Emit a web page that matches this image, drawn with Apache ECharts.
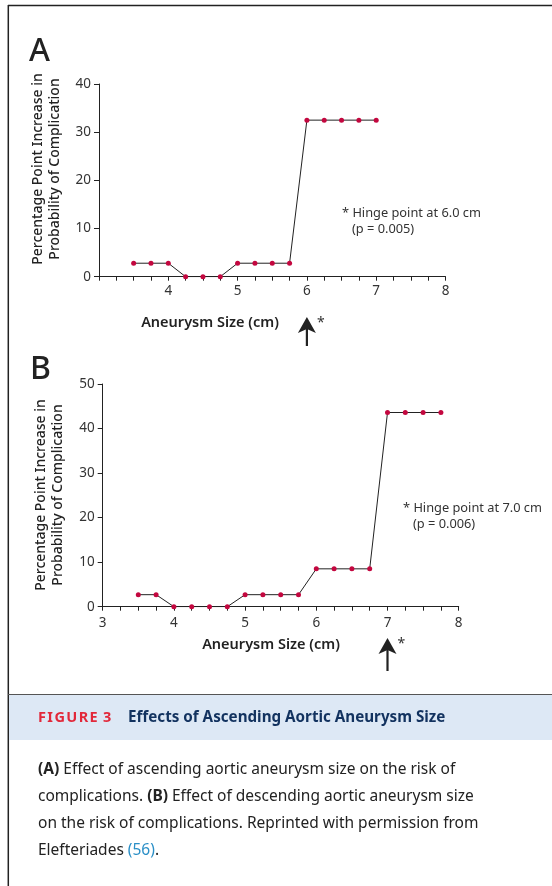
<!DOCTYPE html>
<html>
<head>
<meta charset="utf-8">
<script src="https://cdn.jsdelivr.net/npm/echarts@6/dist/echarts.min.js"></script>
<style>
  html, body { margin: 0; padding: 0; background: #fff; }
  #chart { width: 552px; height: 886px; }
</style>
</head>
<body>
<div id="chart"></div>
<script>
// aneurysm size (cm) and percentage point increase
const sizesA = [3.5, 3.75, 4.0, 4.25, 4.5, 4.75, 5.0, 5.25, 5.5, 5.75, 6.0, 6.25, 6.5, 6.75, 7.0];
const valuesA = [2.8, 2.8, 2.8, 0, 0, 0, 2.8, 2.8, 2.8, 2.8, 32.5, 32.5, 32.5, 32.5, 32.5];
const sizesB = [3.5, 3.75, 4.0, 4.25, 4.5, 4.75, 5.0, 5.25, 5.5, 5.75, 6.0, 6.25, 6.5, 6.75, 7.0, 7.25, 7.5, 7.75];
const valuesB = [2.7, 2.7, 0, 0, 0, 0, 2.7, 2.7, 2.7, 2.7, 8.5, 8.5, 8.5, 8.5, 43.6, 43.6, 43.6, 43.6];
const yTicksA = [0, 10, 20, 30, 40];
const yTicksB = [0, 10, 20, 30, 40, 50];
const xLabelsA = [4, 5, 6, 7, 8];
const xLabelsB = [3, 4, 5, 6, 7, 8];
const hingeA = 6.0;
const hingeB = 7.0;

const FONT = 'Noto Sans';
const INK = '#222';
const DOT = '#c3073f';

const chart = echarts.init(document.getElementById('chart'));

function xAxis(gridIndex, labels) {
  return {
    type: 'value', gridIndex, min: 3, max: 8, interval: 0.25,
    axisLine: { lineStyle: { color: INK, width: 1 } },
    axisTick: { length: 4, lineStyle: { color: INK } },
    splitLine: { show: false },
    axisLabel: {
      margin: gridIndex === 0 ? 7 : 9,
      fontFamily: FONT, fontSize: 13.5, color: '#333',
      formatter: v => labels.includes(v) ? String(v) : ''
    }
  };
}

function yAxis(gridIndex, ticks) {
  return {
    type: 'value', gridIndex, min: ticks[0], max: ticks[ticks.length - 1], interval: 10,
    axisLine: { show: true, lineStyle: { color: INK, width: 1 } },
    axisTick: { show: true, length: 5, lineStyle: { color: INK } },
    splitLine: { show: false },
    axisLabel: { margin: 8, fontFamily: FONT, fontSize: 13.5, color: '#333' }
  };
}

function lineSeries(idx, xs, ys) {
  return {
    type: 'line', xAxisIndex: idx, yAxisIndex: idx,
    data: xs.map((x, i) => [x, ys[i]]),
    symbol: 'circle', symbolSize: 5,
    itemStyle: { color: DOT },
    lineStyle: { color: INK, width: 1 },
    emphasis: { disabled: true },
    silent: true
  };
}

chart.setOption({
  animation: false,
  textStyle: { fontFamily: FONT },
  grid: [
    { left: 99, top: 84, width: 346.5, height: 192.7 },
    { left: 102.7, top: 384, width: 356, height: 222.7 }
  ],
  xAxis: [xAxis(0, xLabelsA), xAxis(1, xLabelsB)],
  yAxis: [yAxis(0, yTicksA), yAxis(1, yTicksB)],
  series: [lineSeries(0, sizesA, valuesA), lineSeries(1, sizesB, valuesB)]
});

// arrows under the hinge points
function arrow(gridIdx, hinge, top, bottom) {
  const x = chart.convertToPixel({ xAxisIndex: gridIdx }, hinge);
  return [
    { type: 'line', shape: { x1: x, y1: top + 10, x2: x, y2: bottom }, style: { stroke: INK, lineWidth: 2.2 } },
    { type: 'polygon', shape: { points: [[x, top], [x - 9, top + 16], [x, top + 12], [x + 9, top + 16]] }, style: { fill: INK } },
    { type: 'text', x: x + 10, y: top + 6, style: { text: '*', fontFamily: FONT, fontSize: 14, fill: '#333', textVerticalAlign: 'middle' } }
  ];
}

const yTitle = '{a|Percentage Point Increase in}\n{a|Probability of Complication}';
const yTitleRich = { a: { fontFamily: FONT, fontSize: 14, fontWeight: 500, fill: INK, lineHeight: 17 } };

const caption =
  '{b|(A)} Effect of ascending aortic aneurysm size on the risk of\n' +
  'complications. {b|(B)} Effect of descending aortic aneurysm size\n' +
  'on the risk of complications. Reprinted with permission from\n' +
  'Elefteriades {l|(56)}.';

// spaced capitals for the figure tag
const figTag = 'FIGURE 3'.split('').map(ch => ch === ' ' ? '{s| }' : '{r|' + ch + '}').join('');

chart.setOption({
  graphic: [
    // frame
    { type: 'line', shape: { x1: 8, y1: 5.5, x2: 552, y2: 5.5 }, style: { stroke: INK, lineWidth: 1.5 } },
    { type: 'line', shape: { x1: 8.3, y1: 5, x2: 8.3, y2: 886 }, style: { stroke: INK, lineWidth: 1.5 } },
    { type: 'rect', shape: { x: 9, y: 695, width: 543, height: 45 }, style: { fill: '#dde8f5' } },
    { type: 'line', shape: { x1: 8, y1: 694.5, x2: 552, y2: 694.5 }, style: { stroke: '#555', lineWidth: 1 } },

    // panel letters
    { type: 'text', x: 29, y: 68, style: { text: 'A', fontFamily: FONT, fontSize: 32, fontWeight: 500, fill: INK, textVerticalAlign: 'bottom' } },
    { type: 'text', x: 30, y: 386, style: { text: 'B', fontFamily: FONT, fontSize: 32, fontWeight: 500, fill: INK, textVerticalAlign: 'bottom' } },

    // y titles
    { type: 'text', x: 46.5, y: 169, rotation: Math.PI / 2,
      style: { text: yTitle, rich: yTitleRich, textAlign: 'center', textVerticalAlign: 'middle' } },
    { type: 'text', x: 50, y: 495, rotation: Math.PI / 2,
      style: { text: yTitle, rich: yTitleRich, textAlign: 'center', textVerticalAlign: 'middle' } },

    // x titles
    { type: 'text', x: 210, y: 323, style: { text: 'Aneurysm Size (cm)', fontFamily: FONT, fontSize: 14.5, fontWeight: 600, fill: INK, textAlign: 'center', textVerticalAlign: 'middle' } },
    { type: 'text', x: 271, y: 645, style: { text: 'Aneurysm Size (cm)', fontFamily: FONT, fontSize: 14.5, fontWeight: 600, fill: INK, textAlign: 'center', textVerticalAlign: 'middle' } },

    // hinge notes
    { type: 'text', x: 342, y: 221, style: { text: '* Hinge point at 6.0 cm\n   (p = 0.005)', fontFamily: FONT, fontSize: 12.8, lineHeight: 16, fill: '#333', textVerticalAlign: 'middle' } },
    { type: 'text', x: 403, y: 516, style: { text: '* Hinge point at 7.0 cm\n   (p = 0.006)', fontFamily: FONT, fontSize: 12.8, lineHeight: 16, fill: '#333', textVerticalAlign: 'middle' } },

    ...arrow(0, hingeA, 317, 346),
    ...arrow(1, hingeB, 638, 671),

    // figure caption
    { type: 'text', x: 38, y: 718, style: {
      text: figTag, textVerticalAlign: 'middle',
      rich: {
        r: { fontFamily: FONT, fontSize: 14.5, fontWeight: 'bold', fill: '#e2283a', padding: [0, 1.4, 0, 0] },
        s: { fontFamily: FONT, fontSize: 14.5, fontWeight: 'bold', fill: '#e2283a', width: 4 }
      }
    } },
    { type: 'text', x: 128, y: 718, style: {
      text: 'Effects of Ascending Aortic Aneurysm Size', fontFamily: FONT, fontSize: 15.2, fontWeight: 'bold', fill: '#12325f',
      textVerticalAlign: 'middle'
    } },
    { type: 'text', x: 38, y: 756.5, style: {
      text: caption,
      fill: INK, fontFamily: FONT, fontSize: 15.5, lineHeight: 27,
      rich: {
        b: { fontFamily: FONT, fontSize: 15.5, fontWeight: 'bold', fill: INK, lineHeight: 27 },
        l: { fontFamily: FONT, fontSize: 15.5, fill: '#2a8fc7', lineHeight: 27 }
      }
    } }
  ]
});
</script>
</body>
</html>
